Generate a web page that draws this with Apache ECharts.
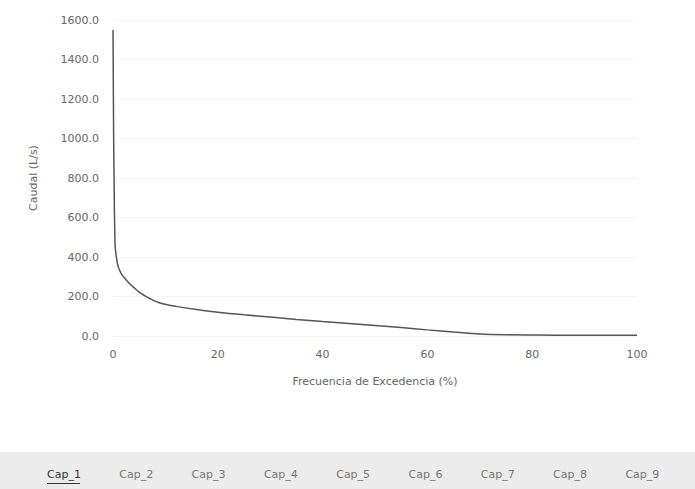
<!DOCTYPE html>
<html>
<head>
<meta charset="utf-8">
<script src="https://cdn.jsdelivr.net/npm/echarts@6/dist/echarts.min.js"></script>
<style>
	html, body { margin: 0; padding: 0; background: #fff; }
	#chart { width: 695px; height: 489px; }
</style>
</head>
<body>
<div id="chart"></div>
<script>
// curva de duracion de caudales - Cap_1
var frecuencia = [0, 0.1, 0.2, 0.4, 0.7, 1, 1.5, 2, 3, 4, 5, 6, 7, 9, 12, 16, 20, 25, 30, 35, 40, 45, 50, 55, 60, 65, 70, 75, 80, 90, 100];
var caudal = [1550, 1100, 800, 460, 390, 350, 320, 300, 270, 245, 222, 205, 190, 167, 150, 134, 120, 107, 96, 84, 73, 63, 53, 43, 31, 20, 10, 6, 5, 4, 4];
var tabs = ['Cap_1', 'Cap_2', 'Cap_3', 'Cap_4', 'Cap_5', 'Cap_6', 'Cap_7', 'Cap_8', 'Cap_9'];
var tabActivo = 0;

var puntos = [];
for (var i = 0; i < frecuencia.length; i++) {
	puntos.push([frecuencia[i], caudal[i]]);
}

var chart = echarts.init(document.getElementById('chart'), null, {renderer: 'svg'});

var graficos = [{
	type: 'rect',
	left: 0,
	top: 452,
	shape: {width: 695, height: 37},
	style: {fill: '#ececec'},
	silent: true
}];
tabs.forEach(function(t, i){
	var cx = 64 + i * 72.3;
	graficos.push({
		type: 'text',
		left: cx - 17,
		top: 469,
		style: {
			text: t,
			fill: i == tabActivo ? '#333' : '#777',
			font: '11px "DejaVu Sans", sans-serif'
		}
	});
	if (i == tabActivo) {
		graficos.push({
			type: 'rect',
			left: cx - 17,
			top: 483,
			shape: {width: 33, height: 1},
			style: {fill: '#333'}
		});
	}
});

var option = {
	animation: false,
	grid: {
		left: 113,
		right: 58,
		top: 20,
		bottom: 153,
	},
	xAxis: {
		type: 'value',
		min: 0,
		max: 100,
		interval: 20,
		name: 'Frecuencia de Excedencia (%)',
		nameLocation: 'middle',
		nameGap: 40,
		nameTextStyle: {color: '#666', fontSize: 11, fontFamily: 'DejaVu Sans'},
		axisLine: {show: false},
		axisTick: {show: false},
		splitLine: {show: false},
		axisLabel: {color: '#666', fontSize: 11, fontFamily: 'DejaVu Sans', margin: 13}
	},
	yAxis: {
		type: 'value',
		min: 0,
		max: 1600,
		interval: 200,
		name: 'Caudal (L/s)',
		nameLocation: 'middle',
		nameGap: 74,
		nameTextStyle: {color: '#666', fontSize: 11, fontFamily: 'DejaVu Sans'},
		axisLine: {show: false},
		axisTick: {show: false},
		splitLine: {lineStyle: {color: '#f6f6f6'}},
		axisLabel: {
			color: '#666', fontSize: 11, fontFamily: 'DejaVu Sans', margin: 14,
			formatter: function(v){ return v.toFixed(1); }
		}
	},
	series: [{
		type: 'line',
		data: puntos,
		smooth: 0.3,
		showSymbol: false,
		lineStyle: {color: '#555', width: 1.5}
	}],
	graphic: graficos
};
chart.setOption(option);
</script>
</body>
</html>
